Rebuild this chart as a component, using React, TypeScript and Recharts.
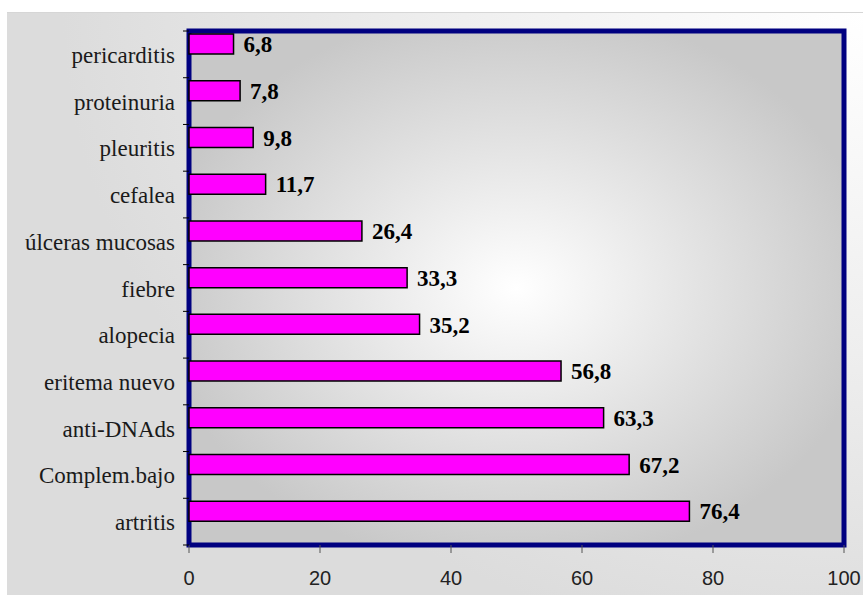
import { BarChart, Bar, XAxis, YAxis, CartesianGrid, LabelList, ReferenceArea } from 'recharts'

// categories top to bottom, as in the picture
const categories = [
  'pericarditis',
  'proteinuria',
  'pleuritis',
  'cefalea',
  'úlceras mucosas',
  'fiebre',
  'alopecia',
  'eritema nuevo',
  'anti-DNAds',
  'Complem.bajo',
  'artritis',
]
const percentages = [6.8, 7.8, 9.8, 11.7, 26.4, 33.3, 35.2, 56.8, 63.3, 67.2, 76.4]
const xTicks = [0, 20, 40, 60, 80, 100]

const data = categories.map((name, i) => ({ name, pct: percentages[i] }))

const SERIF = '"Liberation Serif", "Times New Roman", serif'
const SANS = '"Liberation Sans", Arial, sans-serif'

function YTick(props: any) {
  const { x, y, payload, index } = props
  const half = payload?.offset ?? 23.4
  const ax = x + 14
  return (
    <g>
      <line x1={ax - 6} x2={ax} y1={y - half} y2={y - half} stroke="#000" />
      {index === categories.length - 1 && (
        <line x1={ax - 6} x2={ax} y1={y + half} y2={y + half} stroke="#000" />
      )}
      <text x={x} y={y + 1} textAnchor="end" dominantBaseline="central" fontFamily={SERIF} fontSize={23} fill="#1a1a1a">
        {payload.value}
      </text>
    </g>
  )
}

export default function App() {
  return (
    <div style={{ position: 'relative', width: 863, height: 595, background: '#fff' }}>
      <style>{'body{margin:0}'}</style>
      <div
        style={{
          position: 'absolute',
          left: 7,
          top: 12,
          width: 856,
          height: 583,
          borderTop: '1px solid #d6d6d6',
          boxSizing: 'border-box',
          background: 'radial-gradient(ellipse 110% 130% at 100% 0%, #ffffff 0%, #eeeeee 45%, #dcdcdc 85%)',
        }}
      >
        <BarChart
          width={856}
          height={582}
          data={data}
          layout="vertical"
          margin={{ top: 18, right: 19, bottom: 5, left: 5 }}
          barSize={20}
          barGap={1}
        >
          <defs>
            <radialGradient id="plotBg" cx="0.5" cy="0.5" r="0.55">
              <stop offset="0%" stopColor="#ffffff" />
              <stop offset="100%" stopColor="#c8c8c8" />
            </radialGradient>
          </defs>
          <CartesianGrid horizontal={false} vertical={false} fill="url(#plotBg)" />
          <XAxis
            type="number"
            domain={[0, 100]}
            ticks={xTicks}
            interval={0}
            height={45}
            axisLine={false}
            tickSize={8}
            tickMargin={18}
            tickLine={{ stroke: '#555' }}
            tick={{ fontFamily: SANS, fontSize: 20, fill: '#222' }}
          />
          <YAxis
            type="category"
            dataKey="name"
            width={177}
            interval={0}
            axisLine={false}
            tickLine={false}
            tickSize={6}
            tickMargin={8}
            tick={<YTick />}
          />
          <Bar dataKey="pct" fill="#ff00ff" stroke="#000" strokeWidth={1.5} isAnimationActive={false}>
            <LabelList
              dataKey="pct"
              position="right"
              offset={10}
              formatter={(v: any) => String(v).replace('.', ',')}
              style={{ fontFamily: SERIF, fontSize: 23, fontWeight: 'bold', fill: '#000' }}
            />
          </Bar>
          <Bar dataKey={() => 0} fill="none" stroke="none" isAnimationActive={false} />
          <ReferenceArea x1={0} x2={100} fill="none" stroke="#000080" strokeWidth={5} ifOverflow="visible" />
        </BarChart>
      </div>
    </div>
  )
}
